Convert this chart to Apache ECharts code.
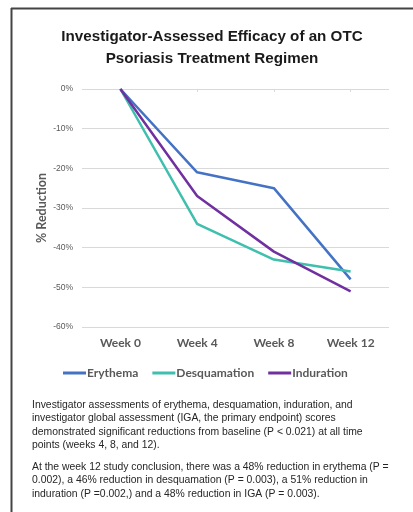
<!DOCTYPE html>
<html>
<head>
<meta charset="utf-8">
<script src="https://cdn.jsdelivr.net/npm/echarts@6/dist/echarts.min.js"></script>
<style>
html,body{margin:0;padding:0;background:#fff;}
#chart{width:413px;height:512px;}
</style>
</head>
<body>
<div id="chart"></div>
<script>
const categories = ['Week 0', 'Week 4', 'Week 8', 'Week 12'];
const erythema = [0, -21, -25, -48];
const desquamation = [0, -34, -43, -46];
const induration = [0, -27, -41, -51];
const seriesNames = ['Erythema', 'Desquamation', 'Induration'];
const yTicks = [0, -10, -20, -30, -40, -50, -60];

const para1 = 'Investigator assessments of erythema, desquamation, induration, and\ninvestigator global assessment (IGA, the primary endpoint) scores\ndemonstrated significant reductions from baseline (P < 0.021) at all time\npoints (weeks 4, 8, and 12).';
const para2 = 'At the week 12 study conclusion, there was a 48% reduction in erythema (P =\n0.002), a 46% reduction in desquamation (P = 0.003), a 51% reduction in\ninduration (P =0.002,) and a 48% reduction in IGA (P = 0.003).';

const colors = ['#4472C4', '#3FBFAD', '#7030A0'];
const chart = echarts.init(document.getElementById('chart'), null, {renderer: 'canvas'});
const lbl = {color: '#595959', fontFamily: 'Lato', fontWeight: 'bold', fontSize: 12};
chart.setOption({
  animation: false,
  color: colors,
  title: {
    text: 'Investigator-Assessed Efficacy of an OTC\nPsoriasis Treatment Regimen',
    left: 207,
    textAlign: 'center',
    top: 21,
    textStyle: {fontFamily: 'Liberation Sans, Arial', fontWeight: 'bold', fontSize: 15.2, lineHeight: 22, color: '#1a1a1a'}
  },
  legend: {
    data: seriesNames,
    left: 58,
    top: 362,
    icon: 'rect',
    itemWidth: 23,
    itemHeight: 3,
    itemGap: 14,
    textStyle: Object.assign({}, lbl, {padding: [0, 0, 0, -4]})
  },
  grid: {left: 82, right: 24, top: 89, bottom: 185, containLabel: false},
  xAxis: [{
    type: 'category',
    data: categories,
    boundaryGap: true,
    position: 'bottom',
    axisLine: {show: false, onZero: false},
    axisTick: {show: false},
    axisLabel: Object.assign({}, lbl, {margin: 10})
  }, {
    type: 'category',
    data: categories,
    boundaryGap: true,
    position: 'top',
    axisLine: {show: false, onZero: false},
    axisTick: {show: true, alignWithLabel: true, inside: true, length: 3, lineStyle: {color: '#d9d9d9'}},
    axisLabel: {show: false}
  }],
  yAxis: {
    type: 'value',
    min: -60,
    max: 0,
    interval: 10,
    name: '% Reduction',
    nameLocation: 'middle',
    nameRotate: 90,
    nameGap: 40,
    nameMoveOverlap: false,
    nameTextStyle: {color: '#595959', fontFamily: 'Lato', fontWeight: 'bold', fontSize: 12.5, verticalAlign: 'middle'},
    axisLine: {show: false},
    axisTick: {show: false},
    axisLabel: {color: '#595959', fontFamily: 'Liberation Sans, Arial', fontSize: 8.5, margin: 9, formatter: v => v + '%'},
    splitLine: {lineStyle: {color: '#d9d9d9', width: 1}}
  },
  series: [
    {name: seriesNames[0], type: 'line', data: erythema, symbol: 'none', lineStyle: {width: 2.5}},
    {name: seriesNames[1], type: 'line', data: desquamation, symbol: 'none', lineStyle: {width: 2.5}},
    {name: seriesNames[2], type: 'line', data: induration, symbol: 'none', lineStyle: {width: 2.5}}
  ],
  graphic: [
    {type: 'line', shape: {x1: 11, y1: 8.5, x2: 413, y2: 8.5}, style: {stroke: '#444', lineWidth: 2}},
    {type: 'line', shape: {x1: 11.5, y1: 8, x2: 11.5, y2: 512}, style: {stroke: '#444', lineWidth: 2}},
    {type: 'text', left: 32, top: 398, style: {text: para1, fontFamily: 'Liberation Sans, Arial', fontSize: 10.4, lineHeight: 13.5, fill: '#262626'}},
    {type: 'text', left: 32, top: 460, style: {text: para2, fontFamily: 'Liberation Sans, Arial', fontSize: 10.4, lineHeight: 13.5, fill: '#262626'}}
  ]
});
</script>
</body>
</html>
